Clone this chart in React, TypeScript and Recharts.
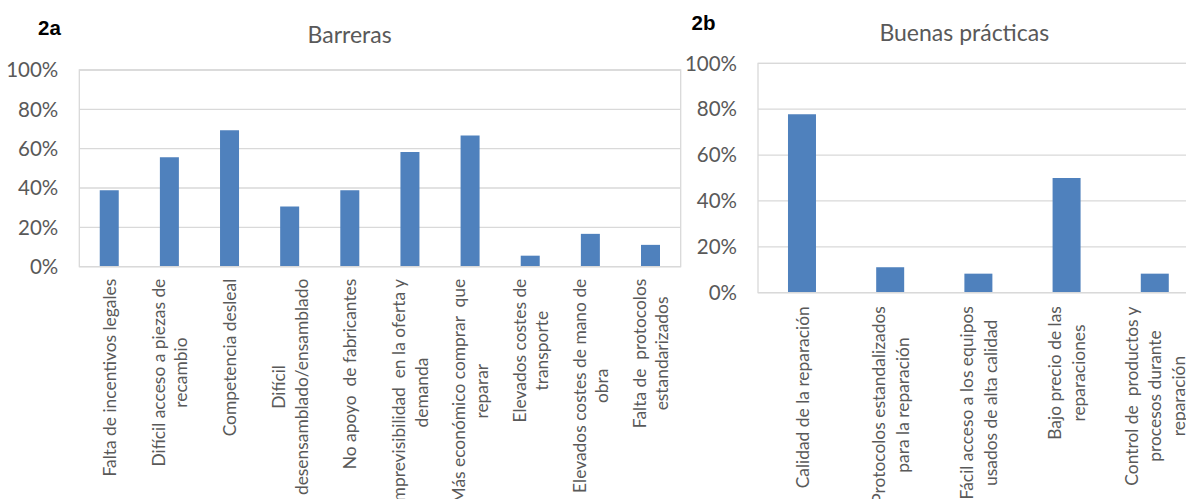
import React from 'react'
import { Bar, BarChart, CartesianGrid, ReferenceArea, XAxis, YAxis } from 'recharts'

const BARRERAS = [
  'Falta de incentivos legales',
  'Difícil acceso a piezas de\nrecambio',
  'Competencia desleal',
  'Difícil\ndesensamblado/ensamblado',
  'No apoyo  de fabricantes',
  'Imprevisibilidad  en la oferta y\ndemanda',
  'Más económico comprar  que\nreparar',
  'Elevados costes de\ntransporte',
  'Elevados costes de mano de\nobra',
  'Falta de  protocolos\nestandarizados',
]
const BARRERAS_PCT = [0.389, 0.556, 0.694, 0.306, 0.389, 0.583, 0.667, 0.056, 0.167, 0.111]

const PRACTICAS = [
  'Calidad de la reparación',
  'Protocolos estandalizados\npara la reparación',
  'Fácil acceso a los equipos\nusados de alta calidad',
  'Bajo precio de las\nreparaciones',
  'Control de  productos y\nprocesos durante\nreparación',
]
const PRACTICAS_PCT = [0.778, 0.111, 0.083, 0.5, 0.083]

const Y_TICKS = [0, 0.2, 0.4, 0.6, 0.8, 1]

const FONT = 'Lato, "Open Sans", sans-serif'
const GREY = '#595959'
const GRID = '#d9d9d9'
const BLUE = '#4f81bd'
const CAT_SIZE = 17.4

let ctx: CanvasRenderingContext2D | null = null
function textWidth(s: string, size: number) {
  if (!ctx) ctx = document.createElement('canvas').getContext('2d')
  if (!ctx) return s.length * size * 0.5
  ctx.font = `${size}px Lato`
  return ctx.measureText(s).width
}

// rotated, wrapped category label (Excel style: lines centered, block top near axis)
function CatTick(props: any) {
  const { x, y, payload, gap, lh } = props
  const lines = String(payload.value).split('\n')
  const w = Math.max(...lines.map((l) => textWidth(l, CAT_SIZE)))
  const cy = y + gap + w / 2
  return (
    <g>
      {lines.map((l, i) => (
        <text
          key={i}
          transform={`translate(${x + (i - (lines.length - 1) / 2) * lh}, ${cy}) rotate(-90)`}
          textAnchor="middle"
          dominantBaseline="central"
          fill={GREY}
          fontSize={CAT_SIZE}
          fontFamily={FONT}
          style={{ whiteSpace: 'pre' }}
        >
          {l}
        </text>
      ))}
    </g>
  )
}

const pct = (v: number) => `${Math.round(v * 100)}%`

function Panel({ names, values, width, top, bottom, yw, right, gap, lh }: {
  names: string[]; values: number[]; width: number; top: number; bottom: number; yw: number; right: number; gap: number; lh: number
}) {
  const data = names.map((name, i) => ({ name, v: values[i] }))
  return (
    <BarChart width={width} height={499} data={data} margin={{ top, right, bottom: 0, left: 0 }} barCategoryGap="34%">
      <CartesianGrid vertical={false} stroke={GRID} strokeWidth={1.3} />
      <ReferenceArea y1={0} y2={1} stroke={GRID} strokeWidth={1.3} fill="none" fillOpacity={0} />
      <XAxis
        dataKey="name"
        interval={0}
        height={499 - bottom}
        tickLine={false}
        axisLine={{ stroke: GRID, strokeWidth: 1.3 }}
        tick={(p: any) => <CatTick {...p} gap={gap} lh={lh} />}
        tickSize={0}
        tickMargin={0}
      />
      <YAxis
        width={yw}
        domain={[0, 1]}
        ticks={Y_TICKS}
        tickFormatter={pct}
        axisLine={false}
        tickLine={false}
        tickSize={0}
        tickMargin={21}
        tick={{ fill: GREY, fontSize: 20.5, fontFamily: FONT }}
      />
      <Bar dataKey="v" fill={BLUE} isAnimationActive={false} />
    </BarChart>
  )
}

export default function App() {
  return (
    <div style={{ position: 'absolute', left: 0, top: 0, width: 1186, height: 499, overflow: 'hidden', background: '#fff' }}>
      <div style={{ position: 'absolute', left: 0, top: 0 }}>
        <Panel names={BARRERAS} values={BARRERAS_PCT} width={700} top={70} bottom={266.7} yw={79.3} right={19.3} gap={12} lh={22.7} />
      </div>
      <div style={{ position: 'absolute', left: 680, top: 0 }}>
        <Panel names={PRACTICAS} values={PRACTICAS_PCT} width={540} top={63.3} bottom={292.7} yw={78} right={21} gap={13.5} lh={23.5} />
      </div>
      <svg width={1186} height={60} style={{ position: 'absolute', left: 0, top: 0, pointerEvents: 'none' }}>
        <text x={38} y={35} fontFamily='"Liberation Sans", Arial, sans-serif' fontWeight="bold" fontSize={20.5} fill="#000">2a</text>
        <text x={349.6} y={42.7} textAnchor="middle" fontFamily={FONT} fontSize={23} fill={GREY}>Barreras</text>
        <text x={691.5} y={30} fontFamily='"Liberation Sans", Arial, sans-serif' fontWeight="bold" fontSize={20.5} fill="#000">2b</text>
        <text x={964.3} y={41} textAnchor="middle" fontFamily={FONT} fontSize={23} fill={GREY}>Buenas prácticas</text>
      </svg>
    </div>
  )
}
